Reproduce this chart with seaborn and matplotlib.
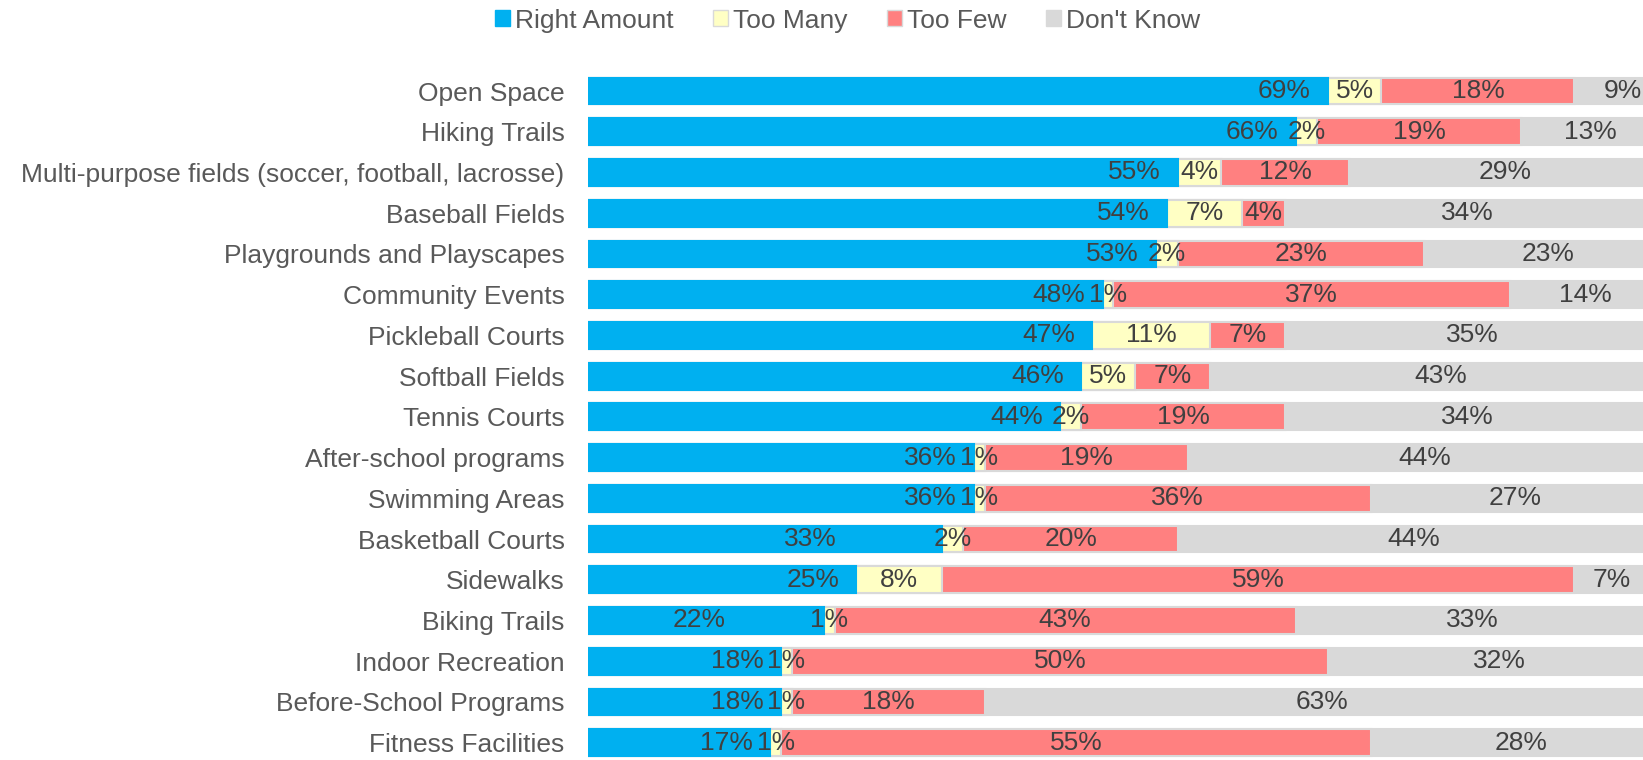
import numpy as np
import pandas as pd
import matplotlib
matplotlib.use("Agg")
import matplotlib.pyplot as plt
from matplotlib.patches import Patch
import seaborn as sns

categories = ["Open Space", "Hiking Trails",
              "Multi-purpose fields (soccer, football, lacrosse)",
              "Baseball Fields", "Playgrounds and Playscapes", "Community Events",
              "Pickleball Courts", "Softball Fields", "Tennis Courts",
              "After-school programs", "Swimming Areas", "Basketball Courts",
              "Sidewalks", "Biking Trails", "Indoor Recreation",
              "Before-School Programs", "Fitness Facilities"]
right_amount = [69, 66, 55, 54, 53, 48, 47, 46, 44, 36, 36, 33, 25, 22, 18, 18, 17]
too_many = [5, 2, 4, 7, 2, 1, 11, 5, 2, 1, 1, 2, 8, 1, 1, 1, 1]
too_few = [18, 19, 12, 4, 23, 37, 7, 7, 19, 19, 36, 20, 59, 43, 50, 18, 55]
dont_know = [9, 13, 29, 34, 23, 14, 35, 43, 34, 44, 27, 44, 7, 33, 32, 63, 28]
series_names = ["Right Amount", "Too Many", "Too Few", "Don't Know"]
colors = ["#00B0F0", "#FFFFC4", "#FF8080", "#D9D9D9"]
# blue labels that sit further left than the bar end in the original
blue_shift = {"Basketball Courts": -8.2, "Biking Trails": -7.6}

sns.set_style("white")
plt.rcParams["font.family"] = ["Liberation Sans", "DejaVu Sans"]
FS = 19

df = pd.DataFrame({"cat": categories, "Right Amount": right_amount,
                   "Too Many": too_many, "Too Few": too_few,
                   "Don't Know": dont_know})
cum = df[series_names].cumsum(axis=1)

fig = plt.figure(figsize=(16.43, 7.6), dpi=100)
ax = fig.add_axes([0.358, -0.004, 0.642, 0.911])

# draw cumulative totals from the widest down so each layer shows as a segment
for name, col in reversed(list(zip(series_names, colors))):
    edge = col if name == "Right Amount" else "#D9D9D9"
    sns.barplot(x=cum[name], y=df["cat"], orient="h", color=col, width=0.66,
                edgecolor=edge, linewidth=1.5, saturation=1, ax=ax)

lab_col = "#404040"
for i, c in enumerate(categories):
    left = 0
    for name in series_names:
        v = df.loc[i, name]
        if name == "Right Amount":
            x = v - 1.6 + blue_shift.get(c, 0)
            ax.text(x, i, f"{v}%", ha="right", va="center", fontsize=FS, color=lab_col)
        else:
            ax.text(left + v / 2, i, f"{v}%", ha="center", va="center", fontsize=FS, color=lab_col)
        left += v

ax.set_xlim(0, 98.4)
ax.set_ylim(16.5, -0.5)
ax.set_xlabel("")
ax.set_ylabel("")
ax.set_xticks([])
ax.tick_params(axis="y", length=0, pad=17, labelsize=FS, labelcolor="#595959")
for s in ax.spines.values():
    s.set_visible(False)

handles = [Patch(facecolor=c, edgecolor=("#D9D9D9" if n != "Right Amount" else c))
           for n, c in zip(series_names, colors)]
leg = fig.legend(handles, series_names, loc="upper center", bbox_to_anchor=(0.516, 1.02),
                 ncol=4, frameon=False, fontsize=FS, handlelength=0.55, handleheight=0.55,
                 handletextpad=0.2, columnspacing=1.5)
for t in leg.get_texts():
    t.set_color("#595959")

fig.savefig("out.png", dpi=100)
